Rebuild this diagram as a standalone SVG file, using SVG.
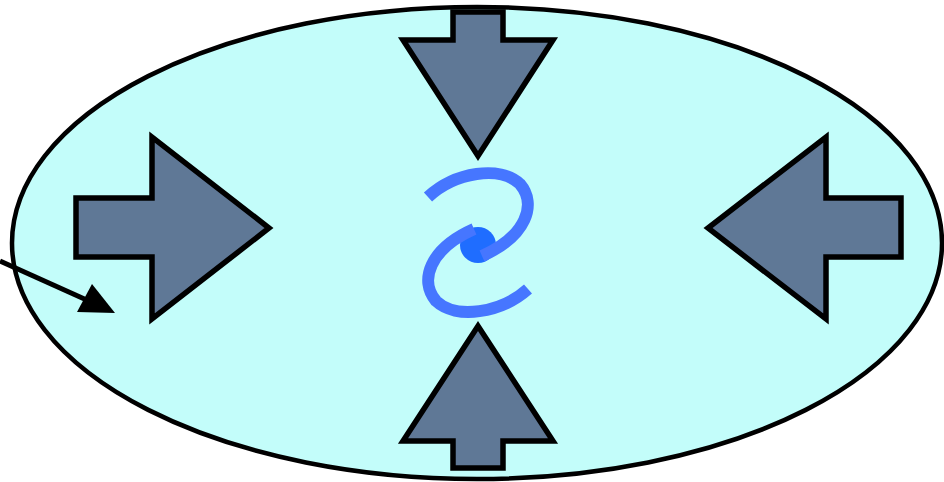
<svg xmlns="http://www.w3.org/2000/svg" width="944" height="482" viewBox="0 0 944 482">
<defs>
<style>
.blk{fill:#5f7896;stroke:#000;stroke-width:5.5;stroke-linejoin:miter}
.sp{fill:none;stroke:#4676ff;stroke-width:12;stroke-linecap:butt}
</style>
</defs>
<rect width="944" height="482" fill="#fff"/>
<g id="ellipse"><ellipse cx="477" cy="243" rx="465" ry="236" fill="#c3fdfa" stroke="#000" stroke-width="4.5"/></g>
<g id="arrow-left"><polygon class="blk" points="76,198 152,198 152,137 269,228 152,319 152,257 76,257"/></g>
<g id="arrow-right"><polygon class="blk" points="901,198 826,198 826,137 708,228 826,319 826,257 901,257"/></g>
<g id="arrow-top"><polygon class="blk" points="453,12 503,12 503,40 553,40 478,156 403,40 453,40"/></g>
<g id="arrow-bottom"><polygon class="blk" points="453,468 503,468 503,441 553,441 478,326 403,441 453,441"/></g>
<g id="spiral">
<circle cx="478" cy="245" r="18" fill="#1f6dff"/>
<path class="sp" d="M428,197 C455,172 500,165 520,184 C537,204 527,236 482,256"/>
<path class="sp" d="M474,229 C429,249 419,281 436,301 C456,320 501,313 528,289"/>
</g>
<g id="connectors">
<line x1="0" y1="261" x2="100" y2="306" stroke="#000" stroke-width="5"/>
<polygon points="115,313 77,312 92,284" fill="#000"/>
</g>
</svg>
